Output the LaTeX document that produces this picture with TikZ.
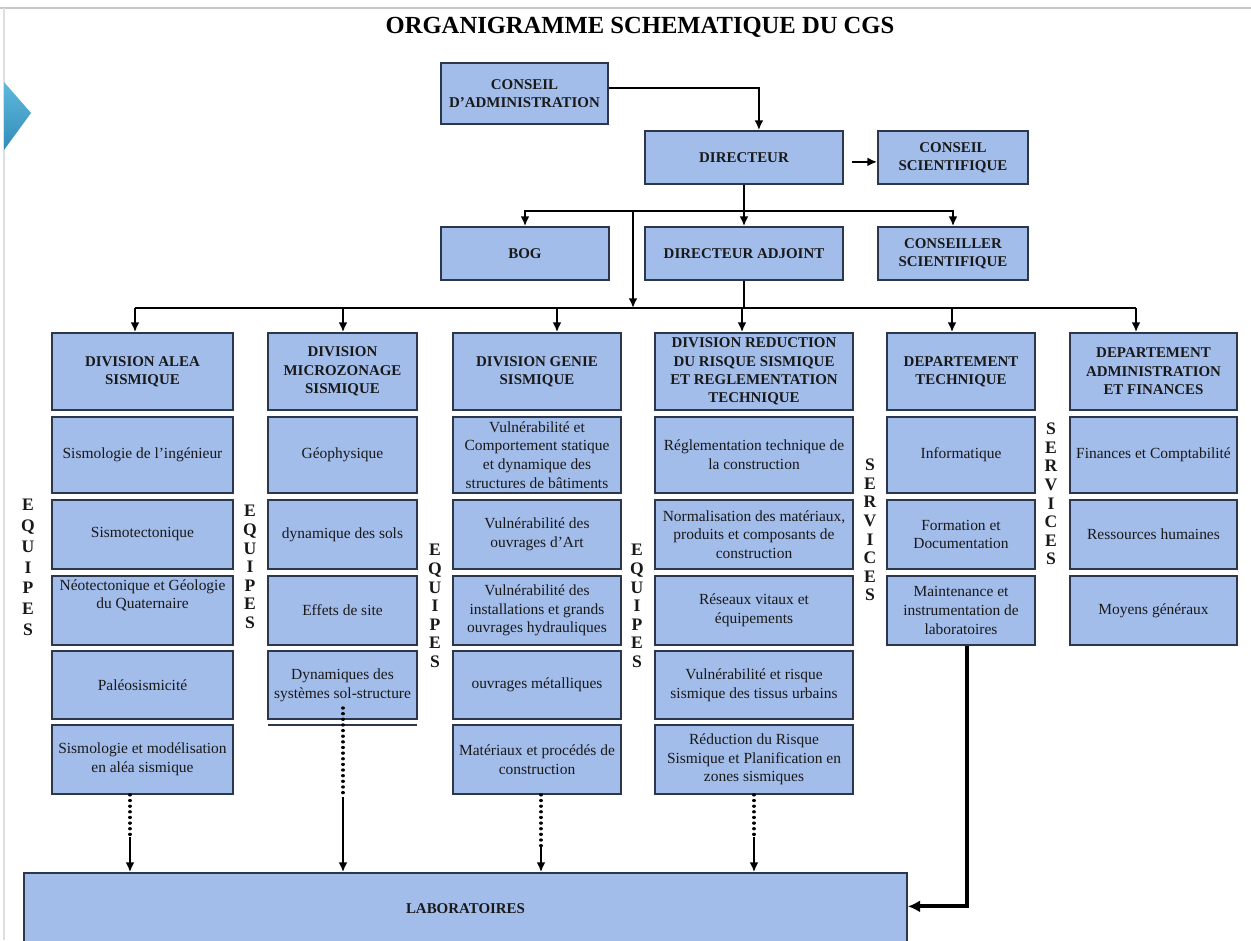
\documentclass[tikz,border=0pt]{standalone}
\usepackage{fontspec}
\setmainfont{Liberation Serif}
\usetikzlibrary{arrows.meta}
\definecolor{boxfill}{RGB}{163,189,235}
\definecolor{boxline}{RGB}{45,55,75}
\definecolor{chevtop}{RGB}{95,185,220}
\definecolor{chevbot}{RGB}{50,140,185}

\begin{document}
\begin{tikzpicture}[x=0.02cm,y=-0.02cm,
	bx/.style 2 args={draw=boxline, line width=1pt, fill=boxfill, minimum width=#1*0.02cm, minimum height=#2*0.02cm, inner sep=1pt, align=center, text=black!90},
	hd/.style={font=\fontsize{8.5}{10.5}\selectfont\bfseries},
	sub/.style={font=\fontsize{8.8}{10.6}\selectfont},
	vlab/.style={align=center, text=black!90, font=\fontsize{10}{10.6}\selectfont\bfseries},
	wire/.style={line width=1.3pt},
	arr/.style={line width=1.3pt, -{Latex[length=5.5pt,width=5pt]}},
	dashlink/.style={line width=1.9pt, line cap=round, dash pattern=on 0.01pt off 3.2pt}]
					\clip (0,0) rectangle (1251,940);
					\fill[white] (0,0) rectangle (1251,940);
					\draw[gray!45, line width=0.8pt] (0,8) -- (1251,8);
					\draw[gray!25, line width=0.6pt] (4,8) -- (4,940);
					\shade[top color=chevtop, bottom color=chevbot] (4,82) -- (31,113) -- (4,150) -- cycle;
					
					\node[font=\fontsize{14}{16}\selectfont\bfseries] (title) at (640,27) {ORGANIGRAMME SCHEMATIQUE DU CGS};
					
					\node[bx={167}{61}, hd] (ca) at (524.5,93.5) {CONSEIL\\D'ADMINISTRATION};
					\node[bx={198}{53}, hd] (dir) at (744,157.5) {DIRECTEUR};
					\node[bx={150}{53}, hd] (cs) at (953,157.5) {CONSEIL\\SCIENTIFIQUE};
					\node[bx={168}{53}, hd] (bog) at (525,253.5) {BOG};
					\node[bx={198}{53}, hd] (da) at (744,253.5) {DIRECTEUR ADJOINT};
					\node[bx={150}{53}, hd] (csr) at (953,253.5) {CONSEILLER\\SCIENTIFIQUE};
					
					\draw[arr] ([yshift=3pt]ca.east) -| ([xshift=8.5pt]dir.north);
					\draw[arr] ([xshift=4.5pt,yshift=-2.5pt]dir.east) -- ([yshift=-2.5pt]cs.west);
					\coordinate (bar1) at (744,211);
					\coordinate (bar2) at (633,308);
					\draw[wire] (dir.south) -- (bar1);
					\draw[arr] (bar1) -- (da.north);
					\draw[arr] (bar1) -| (bog.north);
					\draw[arr] (bar1) -| (csr.north);
					\draw[arr] (bar1 -| bar2) -- (bar2);
					\draw[wire] (da.south) -- (da.south |- bar2);
					
					\node[bx={181}{77}, hd] (h1) at (142.5,371.5) {DIVISION ALEA\\SISMIQUE};
					\node[bx={149}{77}, hd] (h2) at (342.5,371.5) {DIVISION\\MICROZONAGE\\SISMIQUE};
					\node[bx={168}{77}, hd] (h3) at (537,371.5) {DIVISION GENIE\\SISMIQUE};
					\node[bx={198}{77}, hd] (h4) at (754,371.5) {DIVISION REDUCTION\\DU RISQUE SISMIQUE\\ET REGLEMENTATION\\TECHNIQUE};
					\node[bx={148}{77}, hd] (h5) at (961,371.5) {DEPARTEMENT\\TECHNIQUE};
					\node[bx={167}{77}, hd] (h6) at (1153.5,371.5) {DEPARTEMENT\\ADMINISTRATION\\ET FINANCES};
					
					\foreach \i/\x in {1/135, 2/343, 3/557, 4/742, 5/952, 6/1136}
						\coordinate (a\i) at (\x,308);
					\draw[wire] (a1) -- (a6);
					\foreach \i in {1,...,6}
						\draw[arr] (a\i) -- (a\i |- h\i.north);
					
					\node[bx={181}{76}, sub] (e11) at (142.5,455) {Sismologie de l'ingénieur};
					\node[bx={181}{69}, sub] (e12) at (142.5,534.5) {Sismotectonique};
					\node[bx={181}{69}, sub] (e13) at (142.5,610.5) {Néotectonique et Géologie\\du Quaternaire\\[8pt]};
					\node[bx={181}{68}, sub] (e14) at (142.5,685) {Paléosismicité};
					\node[bx={181}{69}, sub] (e15) at (142.5,759.5) {Sismologie et modélisation\\en aléa sismique};
					
					\node[bx={149}{76}, sub] (e21) at (342.5,455) {Géophysique};
					\node[bx={149}{69}, sub] (e22) at (342.5,534.5) {dynamique des sols};
					\node[bx={149}{69}, sub] (e23) at (342.5,610.5) {Effets de site};
					\node[bx={149}{68}, sub] (e24) at (342.5,685) {Dynamiques des\\systèmes sol-structure};
					\draw[boxline, line width=1pt] (268,725) -- (417,725);
					
					\node[bx={168}{76}, sub] (e31) at (537,455) {Vulnérabilité et\\Comportement statique\\et dynamique des\\structures de bâtiments};
					\node[bx={168}{69}, sub] (e32) at (537,534.5) {Vulnérabilité des\\ouvrages d'Art};
					\node[bx={168}{69}, sub] (e33) at (537,610.5) {Vulnérabilité des\\installations et grands\\ouvrages hydrauliques};
					\node[bx={168}{68}, sub] (e34) at (537,685) {ouvrages métalliques};
					\node[bx={168}{69}, sub] (e35) at (537,759.5) {Matériaux et procédés de\\construction};
					
					\node[bx={198}{76}, sub] (e41) at (754,455) {Réglementation technique de\\la construction};
					\node[bx={198}{69}, sub] (e42) at (754,534.5) {Normalisation des matériaux,\\produits et composants de\\construction};
					\node[bx={198}{69}, sub] (e43) at (754,610.5) {Réseaux vitaux et\\équipements};
					\node[bx={198}{68}, sub] (e44) at (754,685) {Vulnérabilité et risque\\sismique des tissus urbains};
					\node[bx={198}{69}, sub] (e45) at (754,759.5) {Réduction du Risque\\Sismique et Planification en\\zones sismiques};
					
					\node[bx={148}{76}, sub] (e51) at (961,455) {Informatique};
					\node[bx={148}{69}, sub] (e52) at (961,534.5) {Formation et\\Documentation};
					\node[bx={148}{69}, sub] (e53) at (961,610.5) {Maintenance et\\instrumentation de\\laboratoires};
					
					\node[bx={167}{76}, sub] (e61) at (1153.5,455) {Finances et Comptabilité};
					\node[bx={167}{69}, sub] (e62) at (1153.5,534.5) {Ressources humaines};
					\node[bx={167}{69}, sub] (e63) at (1153.5,610.5) {Moyens généraux};
					
					\node[vlab, font=\fontsize{10}{11.8}\selectfont\bfseries] (eq1) at (28,567.5) {E\\Q\\U\\I\\P\\E\\S};
					\node[vlab] (eq2) at (250,567) {E\\Q\\U\\I\\P\\E\\S};
					\node[vlab] (eq3) at (435,606) {E\\Q\\U\\I\\P\\E\\S};
					\node[vlab] (eq4) at (637,606) {E\\Q\\U\\I\\P\\E\\S};
					\node[vlab] (sv1) at (870,530) {S\\E\\R\\V\\I\\C\\E\\S};
					\node[vlab] (sv2) at (1051,494) {S\\E\\R\\V\\I\\C\\E\\S};
					
					\node[bx={883}{72}, hd] (lab) at (465.5,909) {LABORATOIRES};
					
					\coordinate (d1) at (130,837);
					\coordinate (s2) at (343,708);
					\coordinate (d2) at (343,797);
					\coordinate (d3) at (541,847);
					\coordinate (d4) at (754,837);
					\draw[dashlink] (d1 |- e15.south) -- (d1);
					\draw[arr] (d1) -- (d1 |- lab.north);
					\draw[dashlink] (s2) -- (d2);
					\draw[arr] (d2) -- (d2 |- lab.north);
					\draw[dashlink] (d3 |- e35.south) -- (d3);
					\draw[arr] (d3) -- (d3 |- lab.north);
					\draw[dashlink] (d4 |- e45.south) -- (d4);
					\draw[arr] (d4) -- (d4 |- lab.north);
					\draw[line width=2.2pt, -{Latex[length=7pt,width=7pt]}] ([xshift=3.4pt]e53.south) |- ([yshift=1.5pt]lab.east);
					\end{tikzpicture}
\end{document}
